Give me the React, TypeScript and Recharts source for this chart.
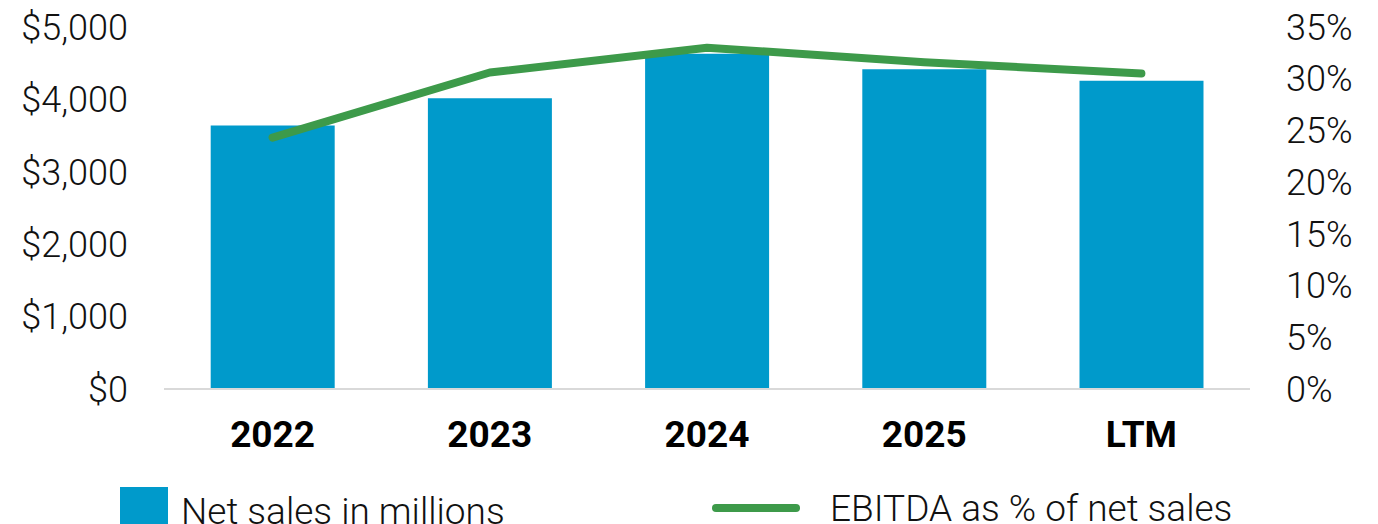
import React from 'react';
import {
  ComposedChart,
  Bar,
  Line,
  XAxis,
  YAxis,
} from 'recharts';

const categories = ['2022', '2023', '2024', '2025', 'LTM'];
const netSales = [3640, 4015, 4630, 4416, 4258];
const ebitdaPct = [0.243, 0.306, 0.33, 0.316, 0.305];
const salesTicks = [0, 1000, 2000, 3000, 4000, 5000];
const pctTicks = [0, 0.05, 0.1, 0.15, 0.2, 0.25, 0.3, 0.35];

const data = categories.map((name, i) => ({
  name,
  sales: netSales[i],
  ebitda: ebitdaPct[i],
}));

const BLUE = '#009ACB';
const GREEN = '#3D9A4A';
const FONT = 'Roboto, sans-serif';

const tickStyle = { fontFamily: FONT, fontSize: 36, fontWeight: 300, fill: '#111' };

export default function App() {
  return (
    <div style={{ position: 'absolute', left: 0, top: 0, width: 1378, height: 524, background: '#fff', overflow: 'hidden' }}>
      <ComposedChart
        width={1378}
        height={524}
        data={data}
        margin={{ top: 27, right: 0, bottom: 0, left: 0 }}
        barCategoryGap="21.5%"
      >
        <XAxis
          dataKey="name"
          height={135}
          axisLine={{ stroke: '#d9d9d9', strokeWidth: 2 }}
          tickLine={false}
          tickMargin={26}
          tick={{ fontFamily: FONT, fontSize: 37, fontWeight: 700, fill: '#000' }}
        />
        <YAxis
          yAxisId="left"
          width={164}
          domain={[0, 5000]}
          ticks={salesTicks}
          axisLine={false}
          tickLine={false}
          tickMargin={30}
          tick={tickStyle}
          tickFormatter={(v: number) => '$' + v.toLocaleString('en-US')}
        />
        <YAxis
          yAxisId="right"
          orientation="right"
          width={128}
          domain={[0, 0.35]}
          ticks={pctTicks}
          axisLine={false}
          tickLine={false}
          tickMargin={30}
          tick={{ ...tickStyle, textAnchor: 'start' }}
          tickFormatter={(v: number) => Math.round(v * 100) + '%'}
        />
        <Bar yAxisId="left" dataKey="sales" fill={BLUE} isAnimationActive={false} />
        <Line
          yAxisId="right"
          dataKey="ebitda"
          type="linear"
          stroke={GREEN}
          strokeWidth={8}
          strokeLinecap="round"
          strokeLinejoin="round"
          dot={false}
          activeDot={false}
          isAnimationActive={false}
        />
      </ComposedChart>
      <div style={{ position: 'absolute', left: 120, top: 487, display: 'flex', alignItems: 'center', fontFamily: FONT, fontWeight: 300, fontSize: 37, color: '#111' }}>
        <span style={{ width: 48, height: 48, background: BLUE, display: 'inline-block', marginRight: 13 }} />
        <span>Net sales in millions</span>
      </div>
      <div style={{ position: 'absolute', left: 712, top: 487, height: 42, display: 'flex', alignItems: 'center', fontFamily: FONT, fontWeight: 300, fontSize: 37, color: '#111' }}>
        <span style={{ width: 88, height: 8, borderRadius: 4, background: GREEN, display: 'inline-block', marginRight: 30 }} />
        <span>EBITDA as % of net sales</span>
      </div>
    </div>
  );
}
